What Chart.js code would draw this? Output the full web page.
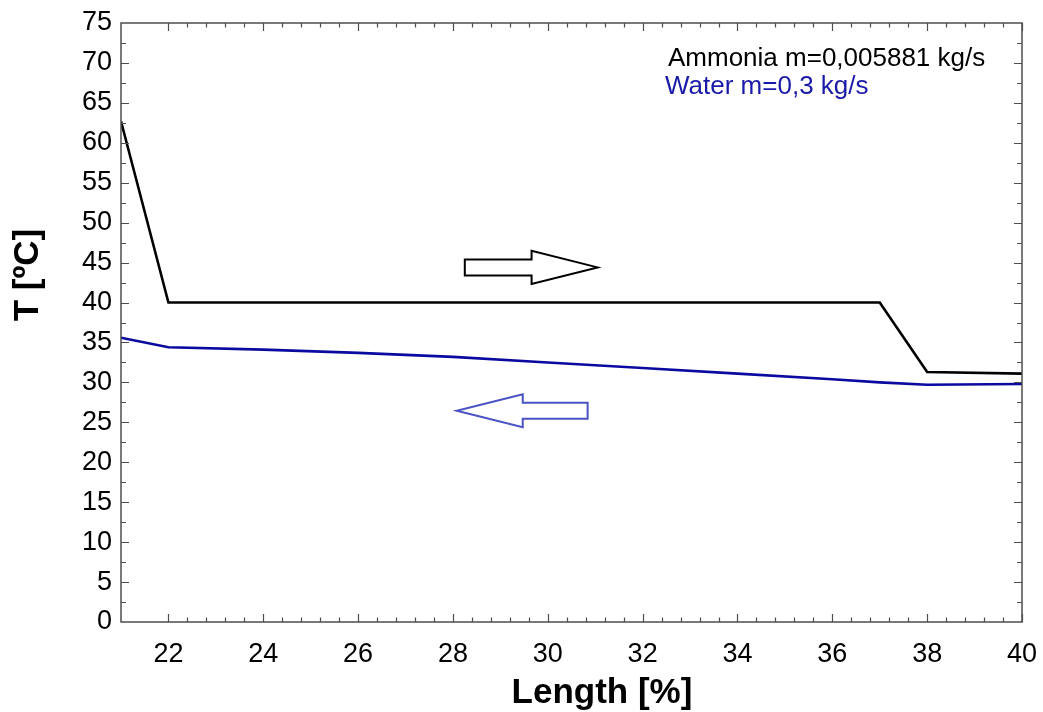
<!DOCTYPE html>
<html>
<head>
<meta charset="utf-8">
<title>T vs Length</title>
<script src="https://cdn.jsdelivr.net/npm/chart.js@4.4.1/dist/chart.umd.min.js"></script>
<style>
    html, body { margin: 0; padding: 0; background: #fff; }
    #chart { display: block; }
</style>
</head>
<body>
<canvas id="chart" width="1043" height="712"></canvas>
<script>
// data
const ammoniaX = [21, 22, 37, 38, 40];
const ammoniaT = [62.7, 40, 40, 31.3, 31.1];
const waterX = [21, 22, 24, 26, 28, 30, 32, 34, 36, 37, 38, 40];
const waterT = [35.6, 34.4, 34.1, 33.7, 33.2, 32.5, 31.8, 31.1, 30.4, 30.0, 29.7, 29.8];

const xTickValues = [22, 24, 26, 28, 30, 32, 34, 36, 38, 40];
const yTickValues = [0, 5, 10, 15, 20, 25, 30, 35, 40, 45, 50, 55, 60, 65, 70, 75];

// flow direction arrows: tail -> tip in data units
const flowArrows = [
    { tail: [28.25, 44.4], tip: [31.05, 44.4], color: '#000000' },
    { tail: [30.84, 26.45], tip: [28.08, 26.45], color: '#4a52c4' }
];

const labels = [
    { text: 'Ammonia m=0,005881 kg/s', color: '#000000' },
    { text: 'Water m=0,3 kg/s', color: '#1a1aa8' }
];

const FONT = '"Liberation Sans", Arial, sans-serif';
const FRAME = '#4d4d4d';

const toPoints = (xs, ys) => xs.map((x, i) => ({ x: x, y: ys[i] }));

const decorations = {
    id: 'decorations',
    beforeDraw(chart) {
        const ctx = chart.ctx;
        ctx.save();
        ctx.fillStyle = '#fff';
        ctx.fillRect(0, 0, chart.width, chart.height);
        ctx.restore();
    },
    afterDraw(chart) {
        const ctx = chart.ctx;
        const a = chart.chartArea;
        const xs = chart.scales.x;
        const ys = chart.scales.y;

        ctx.save();
        ctx.strokeStyle = FRAME;
        ctx.lineWidth = 1.5;
        ctx.strokeRect(a.left, a.top, a.right - a.left, a.bottom - a.top);

        // inward ticks on all four sides
        ctx.lineWidth = 1.2;
        ctx.beginPath();
        for (let v = 22; v <= 40.001; v += 0.4) {
            const major = Math.abs(v / 2 - Math.round(v / 2)) < 0.01;
            const len = major ? 8 : 4.5;
            const px = Math.round(xs.getPixelForValue(v)) + 0.5;
            ctx.moveTo(px, a.bottom); ctx.lineTo(px, a.bottom - len);
            ctx.moveTo(px, a.top); ctx.lineTo(px, a.top + len);
        }
        for (let v = 2.5; v < 75; v += 2.5) {
            const major = v % 5 === 0;
            const len = major ? 8 : 5;
            const py = Math.round(ys.getPixelForValue(v)) + 0.5;
            ctx.moveTo(a.left, py); ctx.lineTo(a.left + len, py);
            ctx.moveTo(a.right, py); ctx.lineTo(a.right - len, py);
        }
        ctx.stroke();

        // arrows
        flowArrows.forEach(arr => {
            const x0 = xs.getPixelForValue(arr.tail[0]);
            const x1 = xs.getPixelForValue(arr.tip[0]);
            const y = ys.getPixelForValue(arr.tip[1]);
            const dir = x1 > x0 ? 1 : -1;
            const headLen = 66, bodyHalf = 8, headHalf = 16.5;
            const xb = x1 - dir * headLen;
            ctx.beginPath();
            ctx.moveTo(x0, y - bodyHalf);
            ctx.lineTo(xb, y - bodyHalf);
            ctx.lineTo(xb, y - headHalf);
            ctx.lineTo(x1, y);
            ctx.lineTo(xb, y + headHalf);
            ctx.lineTo(xb, y + bodyHalf);
            ctx.lineTo(x0, y + bodyHalf);
            ctx.closePath();
            ctx.strokeStyle = arr.color;
            ctx.lineWidth = 2;
            ctx.stroke();
        });

        // series labels
        ctx.font = '26px ' + FONT;
        ctx.textAlign = 'left';
        ctx.textBaseline = 'alphabetic';
        labels.forEach((l, i) => {
            ctx.fillStyle = l.color;
            ctx.fillText(l.text, a.left + 547 - i * 3, a.top + 43 + i * 28);
        });

        // axis titles
        ctx.fillStyle = '#000';
        ctx.font = 'bold 35px ' + FONT;
        ctx.textAlign = 'center';
        ctx.fillText('Length [%]', 602, 703);

        ctx.translate(38, 275);
        ctx.rotate(-Math.PI / 2);
        ctx.fillText('T [ºC]', 0, 0);
        ctx.restore();
    }
};

new Chart(document.getElementById('chart').getContext('2d'), {
    type: 'scatter',
    data: {
        datasets: [
            {
                label: 'Ammonia',
                data: toPoints(ammoniaX, ammoniaT),
                showLine: true,
                borderColor: '#000000',
                borderWidth: 2.6,
                pointRadius: 0,
                tension: 0
            },
            {
                label: 'Water',
                data: toPoints(waterX, waterT),
                showLine: true,
                borderColor: '#0a0aa0',
                borderWidth: 2.6,
                pointRadius: 0,
                tension: 0
            }
        ]
    },
    options: {
        responsive: false,
        animation: false,
        layout: { padding: { left: 0, right: 21, top: 23, bottom: 0 } },
        plugins: {
            legend: { display: false },
            tooltip: { enabled: false }
        },
        scales: {
            x: {
                type: 'linear',
                min: 21,
                max: 40,
                grid: { display: false, drawTicks: false },
                border: { display: false },
                afterBuildTicks: s => { s.ticks = xTickValues.map(v => ({ value: v })); },
                afterFit: s => {
                    s.height = 90;
                    s.paddingLeft = 0;
                    s.paddingRight = 0;
                },
                ticks: {
                    color: '#000',
                    padding: 16,
                    maxRotation: 0,
                    autoSkip: false,
                    font: { family: FONT, size: 27 }
                }
            },
            y: {
                type: 'linear',
                min: 0,
                max: 75,
                grid: { display: false, drawTicks: false },
                border: { display: false },
                afterBuildTicks: s => { s.ticks = yTickValues.map(v => ({ value: v })); },
                afterFit: s => {
                    s.width = 121;
                    s.paddingTop = 0;
                    s.paddingBottom = 0;
                },
                ticks: {
                    color: '#000',
                    padding: 9,
                    autoSkip: false,
                    font: { family: FONT, size: 27 }
                }
            }
        }
    },
    plugins: [decorations]
});
</script>
</body>
</html>
